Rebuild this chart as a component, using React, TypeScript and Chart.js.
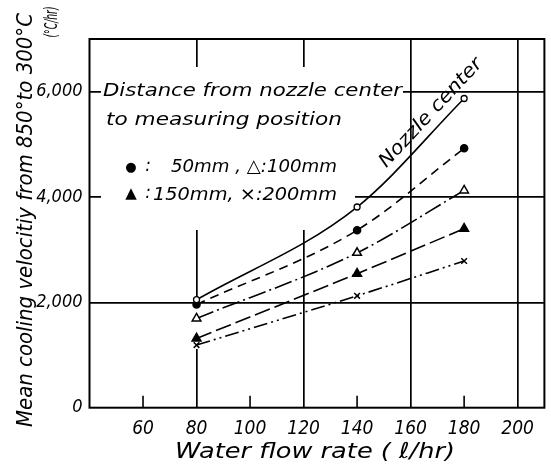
import React, { useEffect, useRef } from 'react';
import { Chart, registerables } from 'chart.js';

Chart.register(...registerables);

// ---- data ----
const flowRates = [80, 140, 180];
const nozzleCenter = [2050, 3810, 5870];
const dist50 = [1960, 3370, 4925];
const dist100 = [1695, 2940, 4125];
const dist150 = [1315, 2545, 3400];
const dist200 = [1190, 2125, 2785];

const xTickValues = [60, 80, 100, 120, 140, 160, 180, 200];
const xMajorGrid = [80, 120, 160, 200];
const xMinorTicks = [60, 100, 140, 180];
const yTickValues = [0, 2000, 4000, 6000];
const yGridValues = [2000, 4000, 6000];

const yTitle = 'Mean cooling velocitiy from 850°to 300°C';
const yUnit = '(°C/hr)';
const xTitle = 'Water flow rate ( ℓ/hr)';
const noteLine1 = 'Distance from nozzle center';
const noteLine2 = 'to measuring position';
const legendLine1 = '50mm , △:100mm';
const legendLine2 = '150mm, ×:200mm';
const curveLabel = 'Nozzle center';

const FONT = '"DejaVu Sans", "Liberation Sans", sans-serif';
const NARROW = '"Liberation Sans Narrow", "DejaVu Sans Condensed", "DejaVu Sans", sans-serif';

function fitText(
  ctx: CanvasRenderingContext2D,
  text: string,
  x: number,
  y: number,
  w: number,
  size: number,
  angle = 0,
  align: CanvasTextAlign = 'left'
) {
  ctx.save();
  ctx.font = `italic ${size}px ${FONT}`;
  const m = ctx.measureText(text).width;
  ctx.translate(x, y);
  ctx.rotate(angle);
  ctx.scale(w / m, 1);
  ctx.textAlign = align;
  ctx.textBaseline = 'middle';
  ctx.fillStyle = '#000';
  ctx.fillText(text, 0, 0);
  ctx.restore();
}

const decorPlugin = {
  id: 'decor',
  beforeDatasetsDraw(chart: any) {
    const { ctx, chartArea, scales } = chart;
    const xs = scales.x;
    ctx.save();
    // white areas where the grid is interrupted by the lettering
    ctx.fillStyle = '#fff';
    ctx.fillRect(101, 67, 254, 163);
    ctx.fillRect(355, 67, 48, 34);
    const x80 = xs.getPixelForValue(80);
    ctx.fillRect(x80 - 2, 297, 4, 52);
    // short inner ticks on the bottom axis
    ctx.strokeStyle = '#000';
    ctx.lineWidth = 1.6;
    xMinorTicks.forEach((v) => {
      const px = xs.getPixelForValue(v);
      ctx.beginPath();
      ctx.moveTo(px, chartArea.bottom);
      ctx.lineTo(px, chartArea.bottom - 12);
      ctx.stroke();
    });
    ctx.restore();
  },
  afterDraw(chart: any) {
    const { ctx, chartArea } = chart;
    ctx.save();
    ctx.strokeStyle = '#000';
    ctx.lineWidth = 2;
    ctx.strokeRect(chartArea.left, chartArea.top, chartArea.right - chartArea.left, chartArea.bottom - chartArea.top);
    ctx.restore();

    // axis titles
    fitText(ctx, yTitle, 26, 220, 414, 22, -Math.PI / 2, 'center');
    fitText(ctx, yUnit, 52, 22, 31, 18, -Math.PI / 2, 'center');
    fitText(ctx, xTitle, 315, 452, 280, 22, 0, 'center');

    // notes
    fitText(ctx, noteLine1, 103, 91, 299, 18);
    fitText(ctx, noteLine2, 106, 120, 236, 18);

    ctx.save();
    ctx.fillStyle = '#000';
    ctx.textAlign = 'center';
    ctx.textBaseline = 'middle';
    ctx.font = `13px ${FONT}`;
    ctx.fillText('●', 131, 168);
    ctx.font = `15px ${FONT}`;
    ctx.fillText('▲', 131, 194);
    ctx.font = `italic 17px ${FONT}`;
    ctx.fillText(':', 148, 167);
    ctx.fillText(':', 148, 194);
    ctx.restore();
    fitText(ctx, legendLine1, 171, 167, 166, 18);
    fitText(ctx, legendLine2, 153, 195, 184, 18);

    fitText(ctx, curveLabel, 431, 113, 142, 19, (-47 * Math.PI) / 180, 'center');
  },
};

export default function App() {
  const ref = useRef<HTMLCanvasElement | null>(null);

  useEffect(() => {
    if (!ref.current) return;
    const line = 1.6;
    const chart = new Chart(ref.current, {
      type: 'line',
      data: {
        datasets: [
          {
            label: 'Nozzle center',
            data: flowRates.map((x, i) => ({ x, y: nozzleCenter[i] })),
            borderColor: '#000',
            borderWidth: line,
            pointStyle: 'circle',
            pointRadius: 3,
            pointBackgroundColor: '#fff',
            pointBorderColor: '#000',
            pointBorderWidth: 1.3,
            cubicInterpolationMode: 'monotone',
          },
          {
            label: '50mm',
            data: flowRates.map((x, i) => ({ x, y: dist50[i] })),
            borderColor: '#000',
            borderWidth: line,
            borderDash: [9, 6],
            pointStyle: 'circle',
            pointRadius: 3.5,
            pointBackgroundColor: '#000',
            pointBorderColor: '#000',
            cubicInterpolationMode: 'monotone',
          },
          {
            label: '100mm',
            data: flowRates.map((x, i) => ({ x, y: dist100[i] })),
            borderColor: '#000',
            borderWidth: line,
            borderDash: [18, 4, 2, 4],
            pointStyle: 'triangle',
            pointRadius: 5,
            pointBackgroundColor: '#fff',
            pointBorderColor: '#000',
            pointBorderWidth: 1.5,
            cubicInterpolationMode: 'monotone',
          },
          {
            label: '150mm',
            data: flowRates.map((x, i) => ({ x, y: dist150[i] })),
            borderColor: '#000',
            borderWidth: line,
            borderDash: [16, 5],
            pointStyle: 'triangle',
            pointRadius: 5,
            pointBackgroundColor: '#000',
            pointBorderColor: '#000',
            cubicInterpolationMode: 'monotone',
          },
          {
            label: '200mm',
            data: flowRates.map((x, i) => ({ x, y: dist200[i] })),
            borderColor: '#000',
            borderWidth: line,
            borderDash: [14, 4, 2, 4, 2, 4],
            pointStyle: 'crossRot',
            pointRadius: 4,
            pointBorderColor: '#000',
            pointBorderWidth: 1.5,
            cubicInterpolationMode: 'monotone',
          },
        ],
      },
      options: {
        responsive: false,
        animation: false,
        devicePixelRatio: 1,
        layout: { padding: { top: 39, right: 4.5, left: 0, bottom: 0 } },
        plugins: { legend: { display: false }, tooltip: { enabled: false } },
        scales: {
          x: {
            type: 'linear',
            min: 40,
            max: 210,
            afterBuildTicks: (s: any) => {
              s.ticks = xTickValues.map((v) => ({ value: v }));
            },
            afterFit: (s: any) => {
              s.height = 63.3;
            },
            border: { display: false },
            grid: {
              drawTicks: false,
              lineWidth: 1.7,
              color: (c: any) => (c.tick && xMajorGrid.includes(c.tick.value) ? '#000' : 'rgba(0,0,0,0)'),
            },
            ticks: {
              color: '#000',
              padding: 10,
              autoSkip: false,
              maxRotation: 0,
              font: { family: NARROW, size: 19, style: 'italic' },
              callback: (v: any) => String(v),
            },
          },
          y: {
            type: 'linear',
            min: 0,
            max: 7000,
            afterBuildTicks: (s: any) => {
              s.ticks = yTickValues.map((v) => ({ value: v }));
            },
            afterFit: (s: any) => {
              s.width = 89.5;
            },
            border: { display: false },
            grid: {
              drawTicks: false,
              lineWidth: 1.7,
              color: (c: any) => (c.tick && yGridValues.includes(c.tick.value) ? '#000' : 'rgba(0,0,0,0)'),
            },
            ticks: {
              color: '#000',
              padding: 7,
              font: { family: NARROW, size: 18, style: 'italic' },
              callback: (v: any) => (v === 0 ? '0' : Number(v).toLocaleString('en-US')),
            },
          },
        },
      },
      plugins: [decorPlugin],
    } as any);
    return () => chart.destroy();
  }, []);

  return (
    <div style={{ position: 'fixed', left: 0, top: 0, width: 551, height: 471, background: '#fff' }}>
      <canvas ref={ref} width={551} height={471} style={{ display: 'block' }} />
    </div>
  );
}
